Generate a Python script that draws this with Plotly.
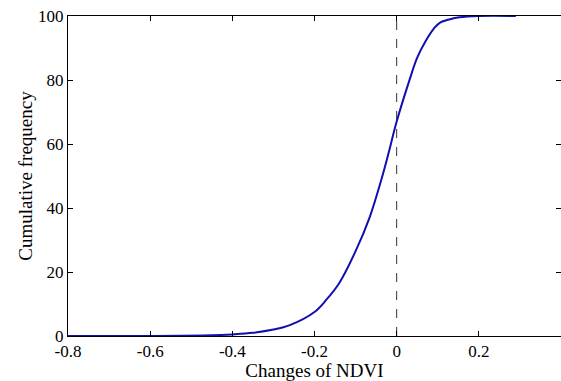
import plotly.graph_objects as go

ndvi_change = [-0.8, -0.6, -0.45, -0.4, -0.35, -0.3, -0.26, -0.2, -0.17, -0.14, -0.1,
               -0.066, -0.037, -0.02, 0.0, 0.03, 0.05, 0.072, 0.09, 0.104, 0.13, 0.153, 0.2, 0.29]
cum_freq = [0, 0, 0.2, 0.5, 1, 2, 3.4, 7.5, 11.5, 16.5, 26.5,
            37, 49, 57, 67, 79.5, 87, 92.5, 96, 97.8, 99, 99.6, 100, 100]
ref_x = [0, 0]
ref_y = [0, 100]
x_ticks = [-0.8, -0.6, -0.4, -0.2, 0, 0.2]
x_labels = ["-0.8", "-0.6", "-0.4", "-0.2", "0", "0.2"]
y_ticks = [0, 20, 40, 60, 80, 100]

fig = go.Figure()
fig.add_trace(go.Scatter(x=ref_x, y=ref_y, mode="lines",
                         line=dict(color="#333333", width=1, dash="dash"), showlegend=False))
fig.add_trace(go.Scatter(x=ndvi_change, y=cum_freq, mode="lines", line_shape="spline",
                         line=dict(color="#1010b0", width=2), showlegend=False))

tick_font = dict(family="Liberation Serif", size=17, color="black")
title_font = dict(family="Liberation Serif", size=19, color="black")
fig.update_layout(
    width=561, height=381,
    margin=dict(l=68, r=0, t=16, b=45, autoexpand=False),
    paper_bgcolor="white", plot_bgcolor="white",
    font=tick_font,
    xaxis=dict(range=[-0.8, 0.4], tickvals=x_ticks, ticktext=x_labels,
               ticks="inside", ticklen=5, tickcolor="black", tickfont=tick_font,
               showline=True, linecolor="black", linewidth=1, mirror="ticks",
               showgrid=False, zeroline=False, automargin=False,
               ticklabeloverflow="allow",
               title=dict(text="Changes of NDVI", standoff=2, font=title_font)),
    yaxis=dict(range=[0, 100], tickvals=y_ticks,
               ticks="inside", ticklen=5, tickcolor="black", tickfont=tick_font,
               showline=True, linecolor="black", linewidth=1, mirror="ticks",
               showgrid=False, zeroline=False, automargin=False,
               ticklabeloverflow="allow",
               title=dict(text="Cumulative frequency", standoff=0, font=title_font)),
)
fig.write_html("out.html", config={"displayModeBar": False},
               post_script="document.body.style.margin='0';document.body.style.overflow='hidden';")
